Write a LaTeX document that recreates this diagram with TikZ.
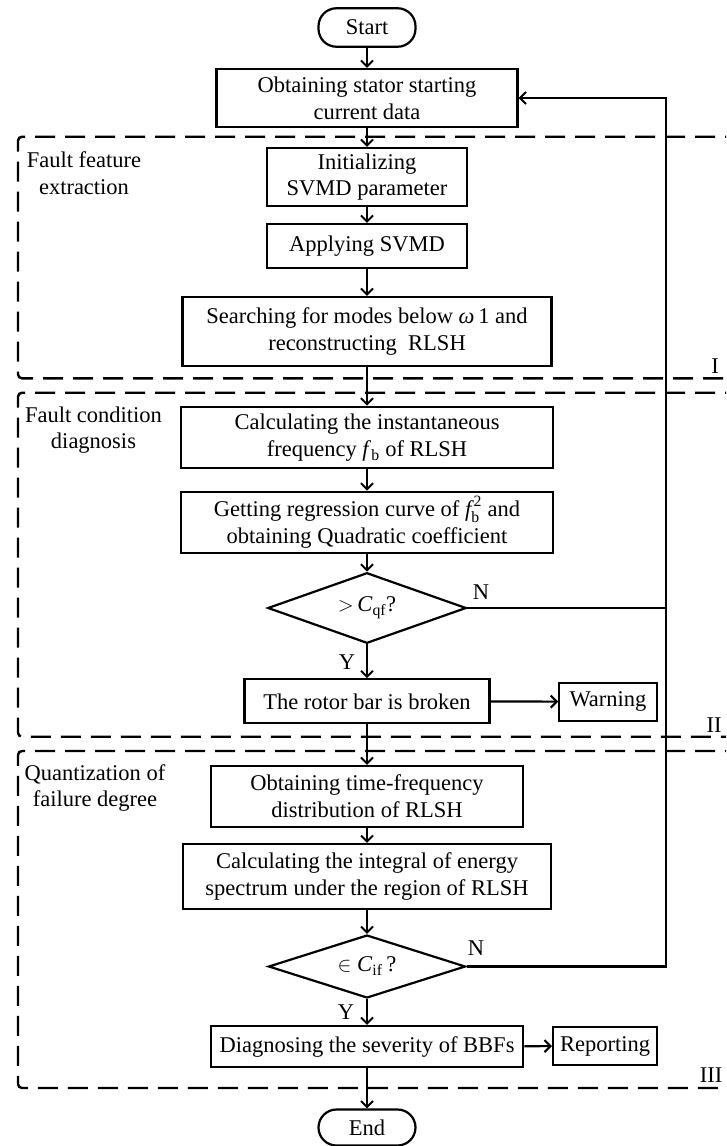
\documentclass[tikz,border=0pt]{standalone}
\usepackage{fontspec}
\usepackage{amsmath}
\setmainfont{Liberation Serif}
\usetikzlibrary{arrows.meta,shapes.geometric}
\newcommand{\myfs}{\fontsize{22.5}{26.7}\selectfont}
\tikzset{
  box/.style={draw, line width=2.2pt, rectangle, inner sep=0pt, align=center, font=\myfs},
  term/.style={box, rounded corners=18pt},
  dia/.style={draw, line width=2.2pt, diamond, aspect=2.8, inner sep=0pt, font=\myfs},
  lbl/.style={inner sep=0pt, align=center, font=\myfs},
  conn/.style={line width=2.2pt},
  arr/.style={conn, -{Straight Barb[length=6pt,width=12pt,line width=2pt]}},
  region/.style={line width=2.4pt, dash pattern=on 20pt off 10pt, rounded corners=4pt}
}
\begin{document}
\begin{tikzpicture}[x=1pt,y=-1pt]
\useasboundingbox (0,0) rectangle (726,1146);
\clip (0,0) rectangle (726,1146);
% regions
\draw[region] (745,136.7) -- (18,136.7) -- (18,378.3) -- (745,378.3);
\draw[region] (745,392.7) -- (18,392.7) -- (18,736.7) -- (745,736.7);
\draw[region] (745,751) -- (18,751) -- (18,1088) -- (745,1088);
\node[lbl] (rI) at (715,366) {I};
\node[lbl] (rII) at (714,725) {II};
\node[lbl] (rIII) at (711,1075) {III};
\node[lbl] (lab1) at (84,173.5) {Fault feature\\extraction};
\node[lbl] (lab2) at (93.5,430) {Fault condition\\diagnosis};
\node[lbl] (lab3) at (95,788) {Quantization of\\failure degree};
% nodes
\node[term, minimum width=97pt, minimum height=38.5pt] (start) at (367,27.5) {Start};
\node[box, minimum width=301pt, minimum height=58pt] (b1) at (367,98) {Obtaining stator starting\\current data};
\node[box, minimum width=200pt, minimum height=58pt] (b2) at (367,177) {Initializing\\SVMD parameter};
\node[box, minimum width=200pt, minimum height=44pt] (b3) at (367,246) {Applying SVMD};
\node[box, minimum width=369pt, minimum height=69pt] (b4) at (367,331.5) {Searching for modes below \textit{ω}\,1 and\\reconstructing\ \ RLSH};
\node[box, minimum width=371.5pt, minimum height=61.5pt] (b5) at (367,437.5) {Calculating the instantaneous\\frequency \textit{f}\textsubscript{b} of RLSH};
\node[box, minimum width=371.5pt, minimum height=61pt] (b6) at (367,522.2) {Getting regression curve of $\textit{f}_{\text{b}}^{\,\text{2}}$ and\\obtaining Quadratic coefficient};
\node[dia, minimum width=198.5pt, minimum height=70.6pt] (d1) at (367,608) {$>$\,\textit{C}\textsubscript{qf}?};
\node[box, minimum width=245pt, minimum height=44pt] (b7) at (367,701.3) {The rotor bar is broken};
\node[box, minimum width=97.5pt, minimum height=38pt] (warn) at (608,701.7) {Warning};
\node[box, minimum width=312.7pt, minimum height=61pt] (b8) at (367,796.5) {Obtaining time-frequency\\distribution of RLSH};
\node[box, minimum width=368.7pt, minimum height=65pt] (b9) at (367,876.5) {Calculating the integral of energy\\spectrum under the region of RLSH};
\node[dia, minimum width=197pt, minimum height=63pt] (d2) at (367,966.5) {$\in$ \textit{C}\textsubscript{if}\,?};
\node[box, minimum width=312.7pt, minimum height=41pt] (b10) at (367,1046.5) {Diagnosing the severity of BBFs};
\node[box, minimum width=104pt, minimum height=38pt] (rep) at (605,1046) {Reporting};
\node[term, minimum width=97pt, minimum height=36pt] (end) at (367,1127.5) {End};
% labels
\node[lbl] (n1) at (481,591.7) {N};
\node[lbl] (y1) at (347,661.7) {Y};
\node[lbl] (n2) at (476,948) {N};
\node[lbl] (y2) at (346,1012) {Y};
% connectors
\coordinate (fbtop) at (666,98);
\coordinate (fbmid) at (666,608);
\draw[arr] (start) -- (b1);
\draw[arr] (b1) -- (b2);
\draw[arr] (b2) -- (b3);
\draw[arr] (b3) -- (b4);
\draw[arr] (b4) -- (b5);
\draw[arr] (b5) -- (b6);
\draw[arr] (b6) -- (d1);
\draw[arr] (d1) -- (b7);
\draw[arr] (b7) -- (warn);
\draw[arr] (b7) -- (b8);
\draw[arr] (b8) -- (b9);
\draw[arr] (b9) -- (d2);
\draw[arr] (d2) -- (b10);
\draw[arr] (b10) -- (rep);
\draw[arr] (b10) -- (end);
\draw[conn] (d1.east) -- (fbmid);
\draw[arr] (d2.east) -| (fbtop) -- (b1.east);
\end{tikzpicture}
\end{document}
